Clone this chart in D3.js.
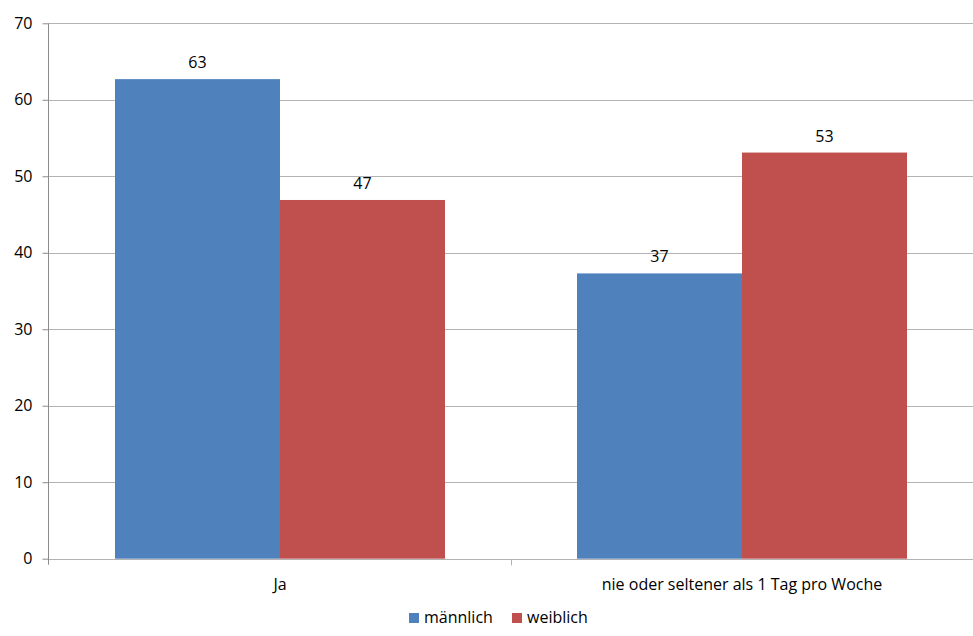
<!DOCTYPE html>
<html><head><meta charset="utf-8">
<script src="https://cdn.jsdelivr.net/npm/d3@7"></script>
<style>
body{margin:0;background:#fff;}
text{font-family:"Open Sans",sans-serif;fill:#000;}
</style></head>
<body><svg id="c" width="973" height="636"></svg>
<script>
const categories = ["Ja", "nie oder seltener als 1 Tag pro Woche"];
const seriesNames = ["männlich", "weiblich"];
const maennlich = [62.7, 37.3];
const weiblich = [46.9, 53.1];
const dataLabels = [["63", "37"], ["47", "53"]];
const yTicks = [0, 10, 20, 30, 40, 50, 60, 70];
const colors = ["#4F81BD", "#C0504D"];

const FS = "16px";
const svg = d3.select("#c");
const m = {left: 49, right: 0, top: 23.3, bottom: 636 - 558.7};
const W = 973, H = 636;
const x0 = d3.scaleBand().domain(categories).range([m.left, W - m.right]).paddingInner(0).paddingOuter(0);
const y = d3.scaleLinear().domain([0, 70]).range([H - m.bottom, m.top]);
const x1 = d3.scaleBand().domain(seriesNames).range([0, x0.bandwidth()]).paddingOuter(0.4).paddingInner(0);

// gridlines
svg.append("g").selectAll("line").data(yTicks.filter(d => d > 0)).join("line")
  .attr("x1", m.left).attr("x2", W - m.right)
  .attr("y1", d => Math.round(y(d)) + 0.5).attr("y2", d => Math.round(y(d)) + 0.5)
  .attr("stroke", "#B3B3B3").attr("stroke-width", 1);

const series = [maennlich, weiblich];
series.forEach((vals, si) => {
  svg.append("g").selectAll("rect").data(categories).join("rect")
    .attr("x", (c) => x0(c) + x1(seriesNames[si]))
    .attr("width", x1.bandwidth())
    .attr("y", (c, i) => y(vals[i]))
    .attr("height", (c, i) => y(0) - y(vals[i]))
    .attr("fill", colors[si]);
  svg.append("g").selectAll("text").data(categories).join("text")
    .attr("x", (c) => x0(c) + x1(seriesNames[si]) + x1.bandwidth() / 2)
    .attr("y", (c, i) => y(vals[i]) - 11)
    .attr("text-anchor", "middle")
    .style("font-size", FS)
    .text((c, i) => dataLabels[si][i]);
});

// y axis
const yAxis = d3.axisLeft(y).tickValues(yTicks).tickSize(6).tickPadding(10);
const ya = svg.append("g").attr("transform", `translate(${m.left - 0.5},0)`).call(yAxis);
ya.select(".domain").attr("stroke", "#8C8C8C").attr("d", `M0,${m.top}V${y(0) + 6}`);
ya.selectAll(".tick line").attr("stroke", "#8C8C8C");
ya.selectAll(".tick text").style("font-size", FS).style("font-family", '"Open Sans",sans-serif').attr("fill", "#000");

// x axis
const xa = svg.append("g").attr("transform", `translate(0,${Math.round(y(0)) + 0.5})`);
xa.append("line").attr("x1", m.left).attr("x2", W - m.right).attr("stroke", "#B3B3B3");
xa.selectAll(".xt").data([m.left + x0.bandwidth()]).join("line")
  .attr("x1", d => d + 0.5).attr("x2", d => d + 0.5).attr("y1", 0).attr("y2", 6).attr("stroke", "#B3B3B3");
xa.selectAll("text").data(categories).join("text")
  .attr("x", c => x0(c) + x0.bandwidth() / 2).attr("y", 30)
  .attr("text-anchor", "middle").style("font-size", FS).text(c => c);

// legend
const lg = svg.append("g");
const lx = [409, 512];
seriesNames.forEach((s, i) => {
  lg.append("rect").attr("x", lx[i]).attr("y", 613).attr("width", 10).attr("height", 10).attr("fill", colors[i]);
  lg.append("text").attr("x", lx[i] + 15).attr("y", 623).style("font-size", FS).text(s);
});
</script></body></html>
